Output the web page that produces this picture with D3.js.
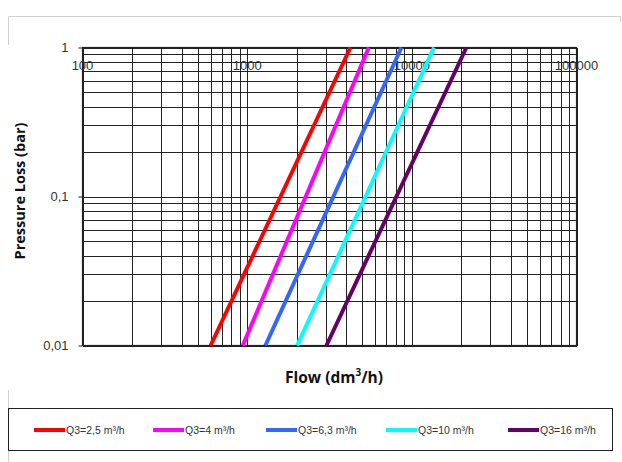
<!DOCTYPE html>
<html>
<head>
<meta charset="utf-8">
<script src="https://cdn.jsdelivr.net/npm/d3@7"></script>
<style>
  html, body { margin: 0; padding: 0; background: #fff; }
  svg { display: block; }
</style>
</head>
<body>
<svg id="chart" width="622" height="462"></svg>
<script>
// ---- data ----
const seriesNames = ["Q3=2,5 m³/h", "Q3=4 m³/h", "Q3=6,3 m³/h", "Q3=10 m³/h", "Q3=16 m³/h"];
const seriesColors = ["#ff0000", "#ff00ff", "#3366ff", "#00ffff", "#660066"];
const pressurePoints = [0.01, 1];            // bar
const flowQ25 = [600, 4240];                  // dm³/h
const flowQ4 = [940, 5480];
const flowQ63 = [1290, 8650];
const flowQ10 = [2010, 13640];
const flowQ16 = [3030, 21450];
const xTickLabels = ["100", "1000", "10000", "100000"];
const xTickValues = [100, 1000, 10000, 100000];
const yTickLabels = ["0,01", "0,1", "1"];
const yTickValues = [0.01, 0.1, 1];

const allFlows = [flowQ25, flowQ4, flowQ63, flowQ10, flowQ16];

// ---- layout ----
const svg = d3.select("#chart");
const L = 82.5, R = 576.5, T = 47.5, B = 345.5;

const x = d3.scaleLog().domain([100, 100000]).range([L, R]);
const y = d3.scaleLog().domain([0.01, 1]).range([B, T]);

// faint outer frame pieces
svg.append("path")
  .attr("d", "M8.5,45 V16.5 H620.5 V22")
  .attr("fill", "none").attr("stroke", "#d0d0d0").attr("stroke-width", 1);

// plot background
svg.append("rect").attr("x", L).attr("y", T).attr("width", R - L).attr("height", B - T)
  .attr("fill", "#fff");

// grid lines
const xGrid = x.ticks();
const yGrid = y.ticks();
const g = svg.append("g").attr("stroke", "#222").attr("stroke-width", 1).attr("shape-rendering", "crispEdges");
g.selectAll("line.vx").data(xGrid).enter().append("line")
  .attr("x1", d => Math.round(x(d)) + 0.5).attr("x2", d => Math.round(x(d)) + 0.5)
  .attr("y1", T).attr("y2", B);
g.selectAll("line.hy").data(yGrid).enter().append("line")
  .attr("y1", d => Math.round(y(d)) + 0.5).attr("y2", d => Math.round(y(d)) + 0.5)
  .attr("x1", L).attr("x2", R);

// plot border
svg.append("rect").attr("x", L).attr("y", T).attr("width", R - L).attr("height", B - T)
  .attr("fill", "none").attr("stroke", "#222").attr("stroke-width", 1.2);

// y axis (left) with short ticks
const yAxis = d3.axisLeft(y).tickValues(yTickValues).tickSize(4).tickPadding(10)
  .tickFormat((d, i) => yTickLabels[i]);
const ya = svg.append("g").attr("transform", `translate(${L},0)`).call(yAxis);
ya.select(".domain").remove();
ya.selectAll(".tick line").attr("stroke", "#222");
ya.selectAll(".tick text").attr("font-family", "Liberation Sans, Arial, sans-serif")
  .attr("font-size", 13).attr("fill", "#333");

// x tick labels inside top of plot
svg.append("g").selectAll("text").data(xTickValues).enter().append("text")
  .attr("x", d => x(d)).attr("y", 70)
  .attr("text-anchor", "middle")
  .attr("font-family", "Liberation Sans, Arial, sans-serif").attr("font-size", 13).attr("fill", "#333")
  .text((d, i) => xTickLabels[i]);

// series lines
svg.append("clipPath").attr("id", "clip").append("rect")
  .attr("x", L).attr("y", T - 1).attr("width", R - L).attr("height", B - T + 2);
const line = d3.line().x(d => x(d[0])).y(d => y(d[1]));
svg.append("g").attr("clip-path", "url(#clip)")
  .selectAll("path").data(allFlows).enter().append("path")
  .attr("d", f => line(f.map((v, i) => [v, pressurePoints[i]])))
  .attr("fill", "none")
  .attr("stroke", (d, i) => seriesColors[i])
  .attr("stroke-width", 4);

// axis titles
svg.append("text")
  .attr("transform", "translate(25,191) rotate(-90)")
  .attr("text-anchor", "middle")
  .attr("font-family", "Open Sans, sans-serif").attr("font-weight", "bold").attr("font-size", 14.5)
  .attr("fill", "#111")
  .text("Pressure Loss (bar)");

const ft = svg.append("text")
  .attr("x", 334).attr("y", 383)
  .attr("text-anchor", "middle")
  .attr("font-family", "Open Sans, sans-serif").attr("font-weight", "bold").attr("font-size", 15.5)
  .attr("fill", "#111");
ft.append("tspan").text("Flow (dm");
ft.append("tspan").attr("baseline-shift", "super").attr("font-size", 10).text("3");
ft.append("tspan").text("/h)");

// legend
svg.append("path").attr("d", "M8.5,390 V462").attr("stroke", "#d0d0d0").attr("fill", "none");
svg.append("rect").attr("x", 8.5).attr("y", 408.5).attr("width", 604).attr("height", 42)
  .attr("fill", "#fff").attr("stroke", "#222").attr("stroke-width", 1);
const legendX = [34, 153, 266, 386, 508];
const lg = svg.append("g").selectAll("g").data(seriesNames).enter().append("g")
  .attr("transform", (d, i) => `translate(${legendX[i]},430)`);
lg.append("line").attr("x1", 0).attr("x2", 31).attr("y1", 0).attr("y2", 0)
  .attr("stroke", (d, i) => seriesColors[i]).attr("stroke-width", 4);
lg.append("text").attr("x", 32).attr("y", 3.5)
  .attr("font-family", "Liberation Sans, Arial, sans-serif").attr("font-size", 10.5).attr("fill", "#333")
  .text(d => d);
</script>
</body>
</html>
